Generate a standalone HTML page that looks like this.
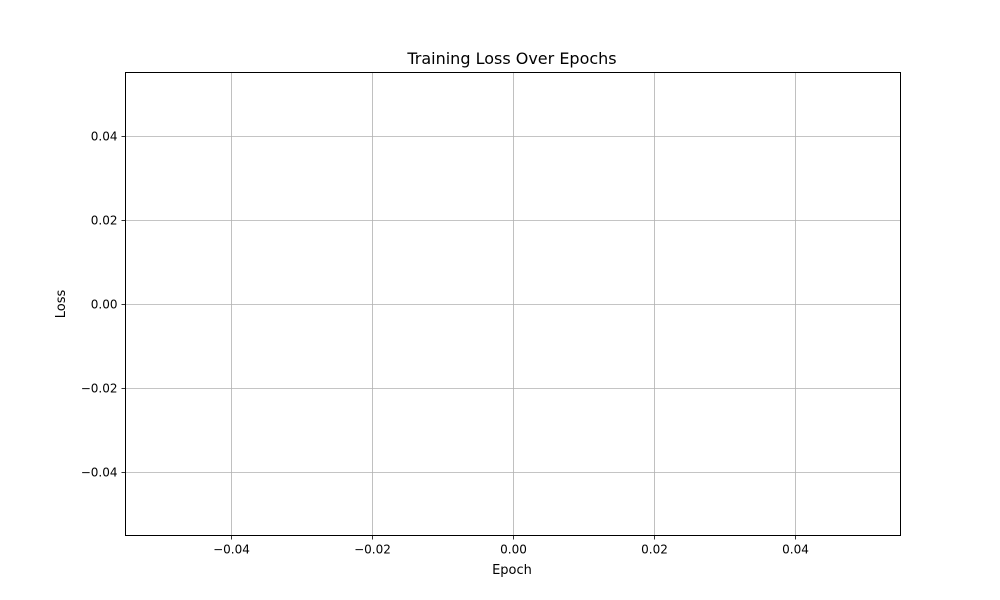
<!DOCTYPE html>
<html><head><meta charset="utf-8"><style>
body{margin:0;background:#fff;}
svg{display:block;font-family:"DejaVu Sans","Liberation Sans",sans-serif;}
</style></head><body>
<svg id="chart" width="1000" height="600">
<rect x="0" y="0" width="1000" height="600" fill="#fff"/>
<text x="512" y="64" text-anchor="middle" font-size="16" fill="#000">Training Loss Over Epochs</text>
<text x="512" y="574" text-anchor="middle" font-size="13" fill="#000">Epoch</text>
<text x="65" y="304" text-anchor="middle" font-size="13" fill="#000" transform="rotate(-90 65 304)">Loss</text>
<g id="grid"></g>
<g id="ticks"></g>
<g id="series"></g>
<rect x="125.5" y="72.5" width="775" height="463" fill="none" stroke="#000" stroke-width="1"/>
</svg>
<script>
const xTicks = [-0.04, -0.02, 0, 0.02, 0.04];
const yTicks = [-0.04, -0.02, 0, 0.02, 0.04];
const xTickLabels = ["−0.04", "−0.02", "0.00", "0.02", "0.04"];
const yTickLabels = ["−0.04", "−0.02", "0.00", "0.02", "0.04"];
const epochs = [];
const lossValues = [];

const L = 125.5, R = 900.5, T = 72.5, B = 535.5;
const xMin = -0.055, xMax = 0.055, yMin = -0.055, yMax = 0.055;
function xs(v){ return L + (v - xMin) / (xMax - xMin) * (R - L); }
function ys(v){ return B - (v - yMin) / (yMax - yMin) * (B - T); }
const NS = "http://www.w3.org/2000/svg";
const grid = document.getElementById('grid'), ticks = document.getElementById('ticks'), series = document.getElementById('series');
function mk(tag, attrs, parent){ const e = document.createElementNS(NS, tag); for (const k in attrs) e.setAttribute(k, attrs[k]); parent.appendChild(e); return e; }

xTicks.forEach((v, i) => {
  const x = Math.round(xs(v)) + 0.5;
  const g = mk('line', {x1:x, x2:x, y1:T, y2:B, stroke:'#b0b0b0', 'stroke-width':0.8}, grid);
  
  
  const t = mk('line', {x1:x, x2:x, y1:B, y2:B+4, stroke:'#000', 'stroke-width':0.8}, ticks);
  
  
  const l = mk('text', {x:x, y:B+18, 'text-anchor':'middle', 'font-size':12, fill:'#000'}, ticks);
  l.textContent = xTickLabels[i];
  
  
});
yTicks.forEach((v, i) => {
  const y = Math.round(ys(v)) + 0.5;
  const g = mk('line', {x1:L, x2:R, y1:y, y2:y, stroke:'#b0b0b0', 'stroke-width':0.8}, grid);
  
  
  const t = mk('line', {x1:L-4, x2:L, y1:y, y2:y, stroke:'#000', 'stroke-width':0.8}, ticks);
  
  
  const l = mk('text', {x:L-8, y:y+4, 'text-anchor':'end', 'font-size':12, fill:'#000'}, ticks);
  l.textContent = yTickLabels[i];
  
  
});
if (lossValues.length) {
  const p = mk('polyline', {points: lossValues.map((v, i) => xs(epochs[i]) + ',' + ys(v)).join(' '), fill:'none', stroke:'#1f77b4', 'stroke-width':1.5}, series);
  
  
}
</script>
</body></html>
